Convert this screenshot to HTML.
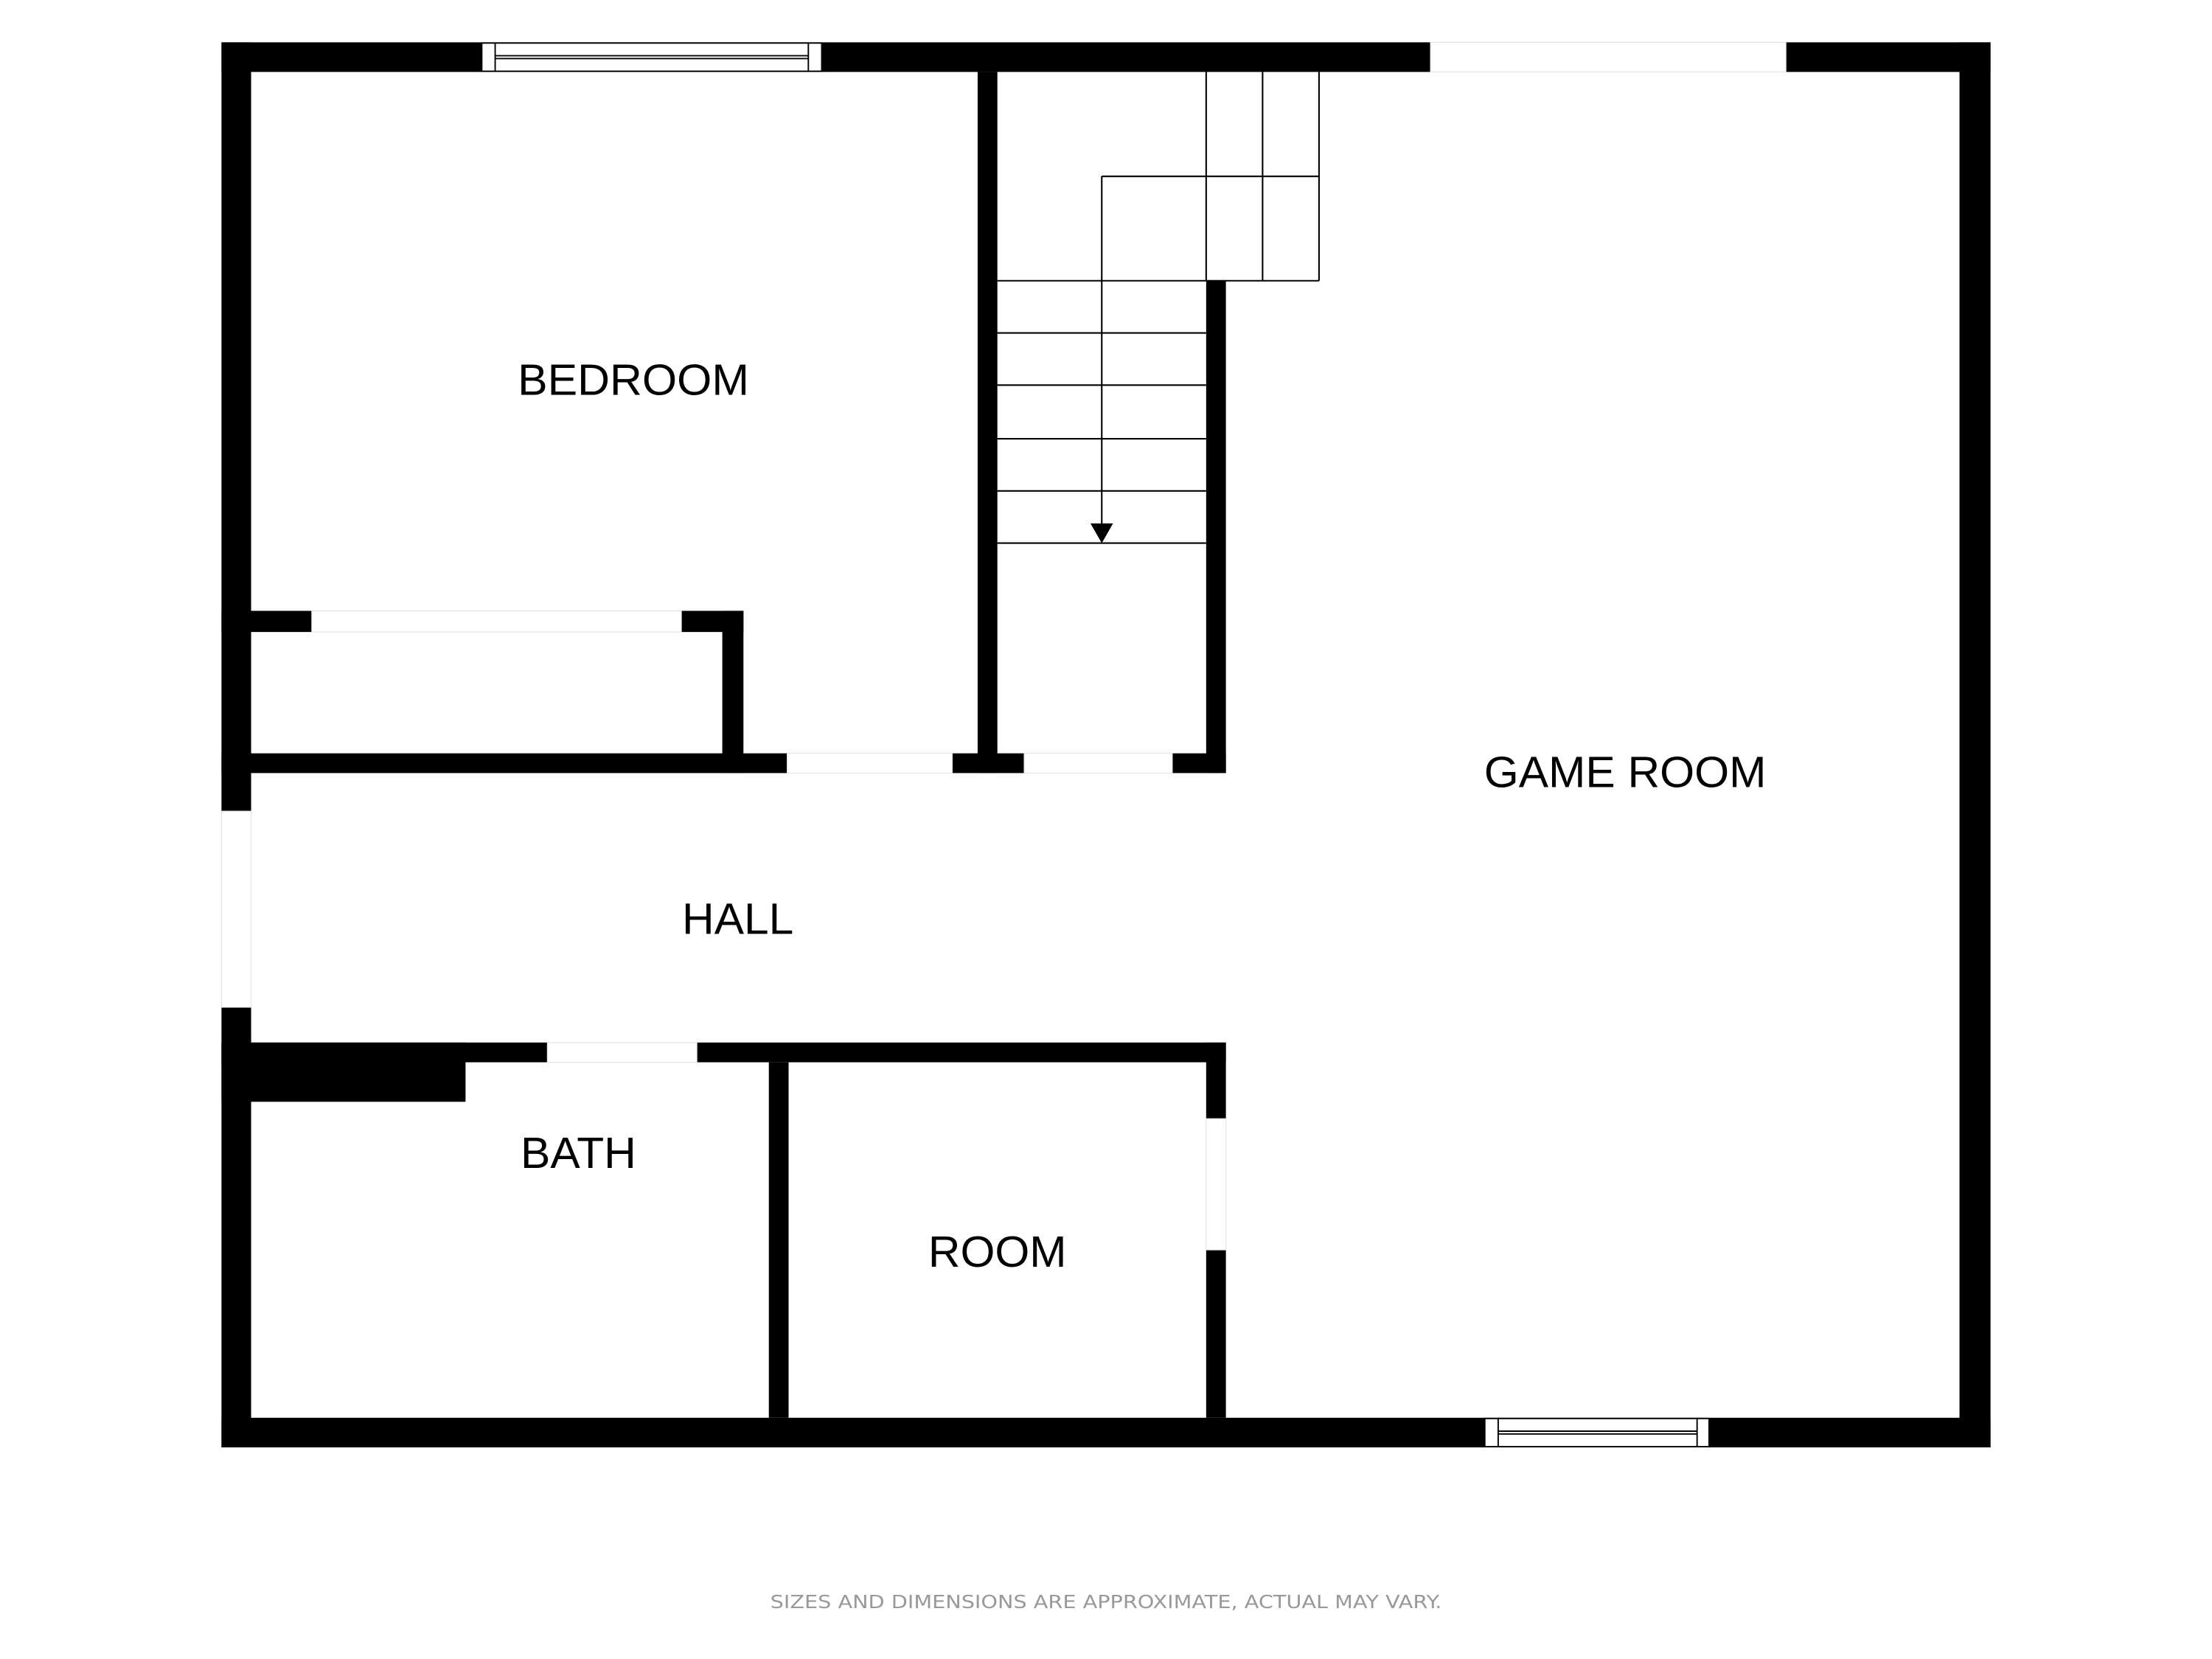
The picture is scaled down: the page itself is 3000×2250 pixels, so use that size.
<!DOCTYPE html>
<html><head><meta charset="utf-8"><style>html,body{margin:0;padding:0;background:#fff}svg{display:block}</style></head>
<body>
<svg width="3000" height="2250" viewBox="0 0 1568 1176" xmlns="http://www.w3.org/2000/svg">
<rect width="1568" height="1176" fill="#fff"/>
<g fill="#000">
<rect x="157" y="30" width="1254" height="21"/>
<rect x="157" y="1005" width="1254" height="21"/>
<rect x="157" y="30" width="21" height="996"/>
<rect x="1389" y="30" width="22" height="996"/>
<rect x="693" y="51" width="14" height="497"/>
<rect x="855" y="199" width="14" height="349"/>
<rect x="157" y="433" width="64" height="15"/>
<rect x="483" y="433" width="44" height="15"/>
<rect x="512" y="433" width="15" height="115"/>
<rect x="157" y="534" width="712" height="14"/>
<rect x="157" y="739" width="712" height="14"/>
<rect x="157" y="739" width="173" height="42"/>
<rect x="545" y="753" width="14" height="252"/>
<rect x="855" y="739" width="14" height="266"/>
</g>
<g fill="#fff" stroke="#e4e4e4" stroke-width="0.6">
<rect x="1014" y="30" width="252" height="21"/>
<rect x="221" y="433" width="262" height="15"/>
<rect x="558" y="534" width="117" height="14"/>
<rect x="726" y="534" width="105" height="14"/>
<rect x="157" y="575" width="21" height="139"/>
<rect x="388" y="739" width="106" height="14"/>
<rect x="855" y="793" width="14" height="93"/>
</g>
<g fill="#fff" stroke="#000" stroke-width="1">
<rect x="341.5" y="30.5" width="241" height="20"/>
<line x1="351" y1="30" x2="351" y2="51"/><line x1="573" y1="30" x2="573" y2="51"/>
<line x1="351" y1="39.5" x2="573" y2="39.5"/><line x1="351" y1="41.5" x2="573" y2="41.5"/>
<rect x="1052.5" y="1005.5" width="159" height="20"/>
<line x1="1062" y1="1005" x2="1062" y2="1026"/><line x1="1203" y1="1005" x2="1203" y2="1026"/>
<line x1="1062" y1="1014.5" x2="1203" y2="1014.5"/><line x1="1062" y1="1016.5" x2="1203" y2="1016.5"/>
</g>
<g stroke="#000" stroke-width="1.1" fill="none">
<line x1="707" y1="199" x2="935" y2="199"/>
<line x1="707" y1="236" x2="855" y2="236"/>
<line x1="707" y1="273" x2="855" y2="273"/>
<line x1="707" y1="311" x2="855" y2="311"/>
<line x1="707" y1="348" x2="855" y2="348"/>
<line x1="707" y1="385" x2="855" y2="385"/>
<line x1="855" y1="51" x2="855" y2="199"/>
<line x1="895" y1="51" x2="895" y2="199"/>
<line x1="935" y1="51" x2="935" y2="199"/>
<line x1="781" y1="125" x2="935" y2="125"/>
<line x1="781" y1="125" x2="781" y2="372"/>
</g>
<polygon points="773,371 789,371 781,385" fill="#000"/>
<g font-family="Liberation Sans, Arial, sans-serif" font-size="31" fill="#000" text-anchor="middle">
<text x="449" y="280" textLength="164" lengthAdjust="spacingAndGlyphs">BEDROOM</text>
<text x="1152" y="558" textLength="200" lengthAdjust="spacingAndGlyphs">GAME ROOM</text>
<text x="523" y="662" textLength="79" lengthAdjust="spacingAndGlyphs">HALL</text>
<text x="410" y="828" textLength="82" lengthAdjust="spacingAndGlyphs">BATH</text>
<text x="707" y="898" textLength="98" lengthAdjust="spacingAndGlyphs">ROOM</text>
</g>
<text x="784" y="1140" font-family="DejaVu Sans, sans-serif" font-size="13" fill="#999" text-anchor="middle" textLength="476" lengthAdjust="spacingAndGlyphs">SIZES AND DIMENSIONS ARE APPROXIMATE, ACTUAL MAY VARY.</text>
</svg>
</body></html>
